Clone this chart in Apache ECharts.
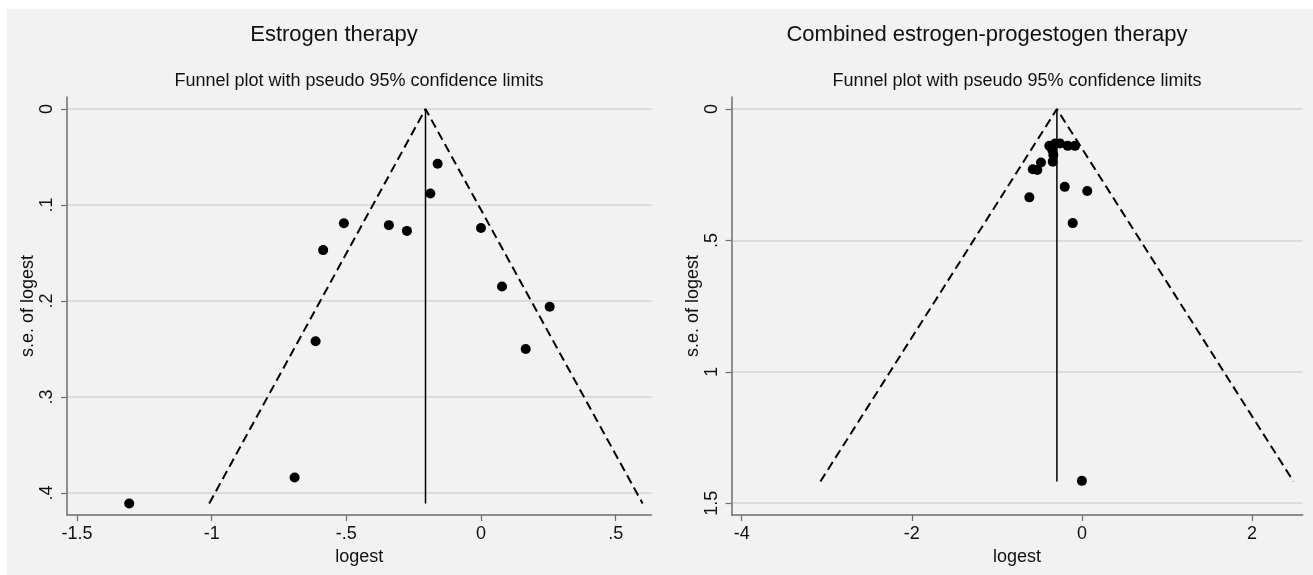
<!DOCTYPE html>
<html>
<head>
<meta charset="utf-8">
<script src="https://cdn.jsdelivr.net/npm/echarts@6/dist/echarts.min.js"></script>
<style>
  html, body { margin: 0; padding: 0; background: #fff; }
  #chart { width: 1313px; height: 575px; }
</style>
</head>
<body>
<div id="chart"></div>
<script>
// Estrogen therapy: study estimates (log scale) and their standard errors
const estrogenLogest = [-0.161, -0.188, -0.509, -0.342, -0.275, -0.586, 0.0, 0.078, 0.255, -0.614, 0.166, -0.692, -1.306];
const estrogenSe = [0.057, 0.088, 0.119, 0.121, 0.127, 0.147, 0.124, 0.185, 0.206, 0.242, 0.250, 0.384, 0.411];
// funnel outline (left limit, apex, right limit) and pooled estimate line
const estrogenFunnelX = [-1.009, -0.206, 0.600];
const estrogenFunnelY = [0.411, 0, 0.411];
const estrogenPooledX = [-0.206, -0.206];
const estrogenPooledY = [0, 0.411];

// Combined estrogen-progestogen therapy
const combinedLogest = [-0.383, -0.316, -0.257, -0.167, -0.081, -0.348, -0.336, -0.343, -0.481, -0.578, -0.524, -0.202, 0.063, -0.618, -0.108, 0.0];
const combinedSe = [0.140, 0.131, 0.131, 0.140, 0.140, 0.156, 0.175, 0.200, 0.203, 0.229, 0.232, 0.296, 0.312, 0.336, 0.434, 1.415];
const combinedFunnelX = [-3.075, -0.294, 2.488];
const combinedFunnelY = [1.4175, 0, 1.4175];
const combinedPooledX = [-0.294, -0.294];
const combinedPooledY = [0, 1.4175];

// tick values
const estrogenXTicks = [-1.5, -1, -0.5, 0, 0.5];
const estrogenYTicks = [0, 0.1, 0.2, 0.3, 0.4];
const combinedXTicks = [-4, -2, 0, 2];
const combinedYTicks = [0, 0.5, 1, 1.5];

const FONT = '"Liberation Sans", Arial, sans-serif';
const TEXT_COLOR = '#111';
const AXIS_COLOR = '#6e6e6e';
const GRID_COLOR = '#dcdcdc';

// Stata style numbers: drop the leading zero (.5, -.5)
function stataFmt(v) {
  if (v === 0) return '0';
  return String(v).replace(/^0\./, '.').replace(/^-0\./, '-.');
}

function zip(xs, ys) {
  return xs.map((x, i) => [x, ys[i]]);
}

function xAxisFor(gridIndex, min, max, ticks) {
  return {
    gridIndex: gridIndex,
    type: 'value',
    min: min,
    max: max,
    name: 'logest',
    nameLocation: 'middle',
    nameGap: 31,
    nameTextStyle: { color: TEXT_COLOR, fontSize: 18, fontFamily: FONT },
    axisLine: { show: true, onZero: false, lineStyle: { color: AXIS_COLOR, width: 1.5 } },
    axisTick: { show: true, length: 6, lineStyle: { color: AXIS_COLOR, width: 1.2 }, customValues: ticks },
    axisLabel: { color: TEXT_COLOR, fontSize: 18, fontFamily: FONT, margin: 10, customValues: ticks, formatter: stataFmt },
    splitLine: { show: false }
  };
}

function yAxisFor(gridIndex, min, max, ticks) {
  return {
    gridIndex: gridIndex,
    type: 'value',
    inverse: true,
    min: min,
    max: max,
    name: 's.e. of logest',
    nameLocation: 'middle',
    nameGap: 29,
    nameTextStyle: { color: TEXT_COLOR, fontSize: 18, fontFamily: FONT },
    axisLine: { show: true, onZero: false, lineStyle: { color: AXIS_COLOR, width: 1.5 } },
    axisTick: { show: true, length: 6, lineStyle: { color: AXIS_COLOR, width: 1.2 }, customValues: ticks },
    axisLabel: { color: TEXT_COLOR, fontSize: 18, fontFamily: FONT, margin: 11, rotate: 90, customValues: ticks, formatter: stataFmt },
    splitLine: { show: true, lineStyle: { color: GRID_COLOR, width: 2 } }
  };
}

function funnelSeries(axisIndex, logest, se, fx, fy, px, py) {
  return [
    {
      type: 'line',
      xAxisIndex: axisIndex,
      yAxisIndex: axisIndex,
      data: zip(fx, fy),
      symbol: 'none',
      silent: true,
      lineStyle: { color: '#000', width: 2, type: [9, 5] },
      z: 3
    },
    {
      type: 'line',
      xAxisIndex: axisIndex,
      yAxisIndex: axisIndex,
      data: zip(px, py),
      symbol: 'none',
      silent: true,
      lineStyle: { color: '#000', width: 1.5 },
      z: 3
    },
    {
      type: 'scatter',
      xAxisIndex: axisIndex,
      yAxisIndex: axisIndex,
      data: zip(logest, se),
      symbol: 'circle',
      symbolSize: 10,
      itemStyle: { color: '#000', opacity: 1 },
      z: 4
    }
  ];
}

const chart = echarts.init(document.getElementById('chart'));

const option = {
  animation: false,
  backgroundColor: '#fff',
  graphic: [
    { type: 'rect', z: -10, shape: { x: 7, y: 9, width: 1306, height: 566 }, style: { fill: '#f2f2f2' } },
    { type: 'text', style: { x: 334, y: 35, text: 'Estrogen therapy', font: '22px ' + FONT, fill: TEXT_COLOR, textAlign: 'center', textVerticalAlign: 'middle' } },
    { type: 'text', style: { x: 359, y: 81, text: 'Funnel plot with pseudo 95% confidence limits', font: '18px ' + FONT, fill: TEXT_COLOR, textAlign: 'center', textVerticalAlign: 'middle' } },
    { type: 'text', style: { x: 987, y: 35, text: 'Combined estrogen-progestogen therapy', font: '22px ' + FONT, fill: TEXT_COLOR, textAlign: 'center', textVerticalAlign: 'middle' } },
    { type: 'text', style: { x: 1017, y: 81, text: 'Funnel plot with pseudo 95% confidence limits', font: '18px ' + FONT, fill: TEXT_COLOR, textAlign: 'center', textVerticalAlign: 'middle' } }
  ],
  grid: [
    { left: 67, top: 97, width: 584.5, height: 418 },
    { left: 731.6, top: 97, width: 571, height: 418 }
  ],
  xAxis: [
    xAxisFor(0, -1.537, 0.633, estrogenXTicks),
    xAxisFor(1, -4.119, 2.595, combinedXTicks)
  ],
  yAxis: [
    yAxisFor(0, -0.0125, 0.423, estrogenYTicks),
    yAxisFor(1, -0.046, 1.545, combinedYTicks)
  ],
  series: [
    ...funnelSeries(0, estrogenLogest, estrogenSe, estrogenFunnelX, estrogenFunnelY, estrogenPooledX, estrogenPooledY),
    ...funnelSeries(1, combinedLogest, combinedSe, combinedFunnelX, combinedFunnelY, combinedPooledX, combinedPooledY)
  ]
};

chart.setOption(option);
</script>
</body>
</html>
